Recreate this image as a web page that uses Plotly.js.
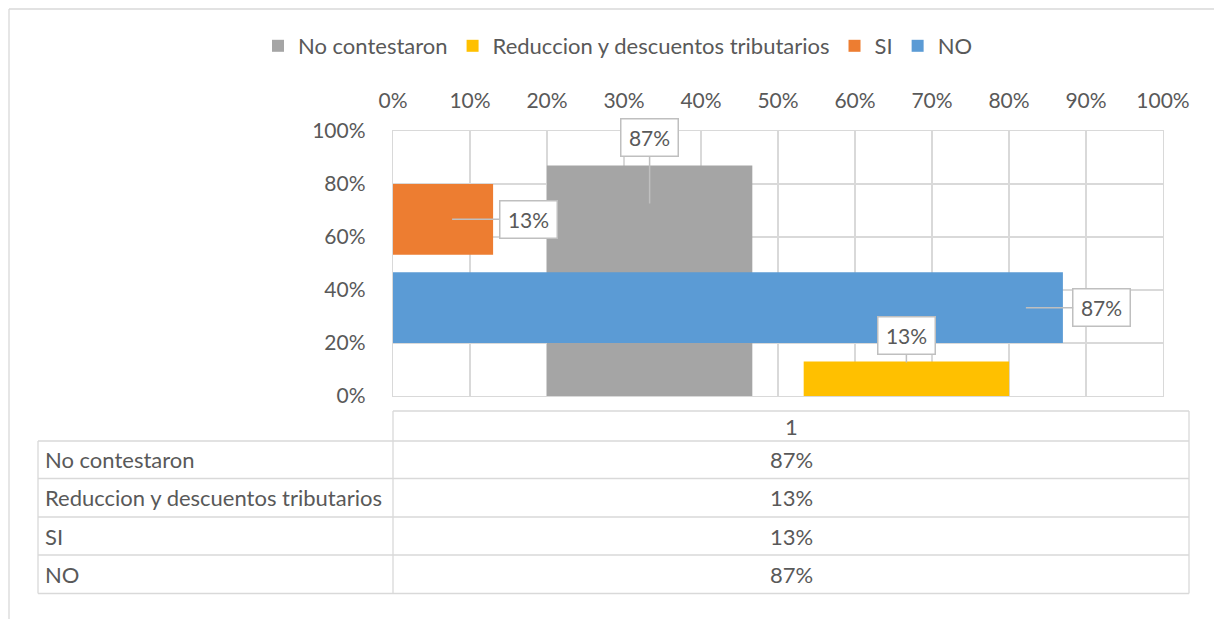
<!DOCTYPE html>
<html>
<head>
<meta charset="utf-8">
<script src="https://cdn.plot.ly/plotly-3.0.1.min.js"></script>
<style>html,body{margin:0;padding:0;background:#fff;}#chart{width:1214px;height:619px;}</style>
</head>
<body>
<div id="chart"></div>
<script>
// ---- data ----
const categories = ['1'];
const seriesNames = ['No contestaron', 'Reduccion y descuentos tributarios', 'SI', 'NO'];
const noContestaron = [0.87];
const reduccion = [0.13];
const si = [0.13];
const no = [0.87];
const percentTicks = [0, 0.1, 0.2, 0.3, 0.4, 0.5, 0.6, 0.7, 0.8, 0.9, 1.0];

// ---- styling ----
const FONT = 'Lato, "Open Sans", sans-serif';
const FS = 22;      // legend and table text
const FS_TICK = 21; // tick labels and callouts
const TXT = '#595959';
const GRID = '#d9d9d9';
const colors = ['#a5a5a5', '#ffc000', '#ed7d31', '#5b9bd5'];
const W = 1214, H = 619;
const M = {l: 393, r: 51, t: 131, b: 223};
const PW = W - M.l - M.r, PH = H - M.t - M.b;
const px = x => (x - M.l) / PW;
const py = y => (H - M.b - y) / PH;
const BARGAP = 0.333, BARGROUPGAP = 0.2;
const fmt = v => Math.round(v * 100) + '%';

const traces = [
  {type: 'bar', name: seriesNames[0], x: categories, y: noContestaron, xaxis: 'x', yaxis: 'y', marker: {color: colors[0]}, hoverinfo: 'none'},
  {type: 'bar', name: seriesNames[1], x: categories, y: reduccion, xaxis: 'x', yaxis: 'y', marker: {color: colors[1]}, hoverinfo: 'none'},
  {type: 'bar', orientation: 'h', name: seriesNames[2], x: si, y: categories, xaxis: 'x2', yaxis: 'y2', marker: {color: colors[2]}, hoverinfo: 'none'},
  {type: 'bar', orientation: 'h', name: seriesNames[3], x: no, y: categories, xaxis: 'x2', yaxis: 'y2', marker: {color: colors[3]}, hoverinfo: 'none'}
];

// group centre offsets (category units) for two bars per group
const quarter = (1 - BARGAP) / 4;

const calloutBase = {
  showarrow: true, arrowhead: 0, arrowwidth: 1.5, arrowcolor: '#bfbfbf',
  bgcolor: '#ffffff', bordercolor: '#bfbfbf', borderwidth: 1.5, borderpad: 3,
  width: 50, height: 30, font: {family: FONT, size: FS_TICK, color: TXT}
};
const annotations = [
  Object.assign({}, calloutBase, {xref: 'x', yref: 'y', x: -quarter, y: noContestaron[0], yshift: -38, ax: 0, ay: -66, text: fmt(noContestaron[0])}),
  Object.assign({}, calloutBase, {xref: 'x', yref: 'y', x: quarter, y: reduccion[0], yshift: -1, ax: 0, ay: -27, text: fmt(reduccion[0])}),
  Object.assign({}, calloutBase, {xref: 'x2', yref: 'y2', x: si[0], y: -quarter, xshift: -41, ax: 76, ay: 0, text: fmt(si[0])}),
  Object.assign({}, calloutBase, {xref: 'x2', yref: 'y2', x: no[0], y: quarter, xshift: -37, ax: 76, ay: 0, text: fmt(no[0])})
];

// ---- data table below the chart ----
const shapes = [];
const line = (x0, y0, x1, y1) => shapes.push({type: 'line', xref: 'paper', yref: 'paper', x0: px(x0), y0: py(y0), x1: px(x1), y1: py(y1), line: {color: GRID, width: 1.3}});
const tLeft = 38, tMid = 393, tRight = 1189, hdrTop = 411;
const rowLines = [441, 478.5, 517, 555, 593.5];
line(tMid, hdrTop, tRight, hdrTop);
rowLines.forEach(y => line(tLeft, y, tRight, y));
line(tLeft, rowLines[0], tLeft, rowLines[rowLines.length - 1]);
line(tMid, hdrTop, tMid, rowLines[rowLines.length - 1]);
line(tRight, hdrTop, tRight, rowLines[rowLines.length - 1]);
// outer chart border
line(9, 9, 1230, 9);
line(9, 9, 9, 640);

const tableFont = {family: FONT, size: FS, color: TXT};
annotations.push({xref: 'paper', yref: 'paper', x: px((tMid + tRight) / 2), y: py((hdrTop + rowLines[0]) / 2), text: categories[0], showarrow: false, xanchor: 'center', yanchor: 'middle', font: tableFont});
const seriesVals = [noContestaron, reduccion, si, no];
seriesNames.forEach((n, i) => {
  const yc = (rowLines[i] + rowLines[i + 1]) / 2;
  annotations.push({xref: 'paper', yref: 'paper', x: px(tLeft + 5), y: py(yc), text: n, showarrow: false, xanchor: 'left', yanchor: 'middle', font: tableFont});
  annotations.push({xref: 'paper', yref: 'paper', x: px((tMid + tRight) / 2), y: py(yc), text: fmt(seriesVals[i][0]), showarrow: false, xanchor: 'center', yanchor: 'middle', font: tableFont});
});

const layout = {
  width: W, height: H,
  margin: M,
  paper_bgcolor: '#ffffff', plot_bgcolor: '#ffffff',
  font: {family: FONT, size: FS, color: TXT},
  barmode: 'group', bargap: BARGAP, bargroupgap: BARGROUPGAP,
  showlegend: true,
  legend: {orientation: 'h', x: px(618), xanchor: 'center', y: py(46), yanchor: 'middle', font: {family: FONT, size: FS, color: TXT}, itemclick: false, traceorder: 'normal'},
  xaxis: {type: 'category', range: [-0.5, 0.5], showticklabels: false, showgrid: false, zeroline: false, showline: false, fixedrange: true},
  yaxis: {range: [0, 1], tickvals: percentTicks.filter((v, i) => i % 2 === 0), tickformat: '.0%', showgrid: true, gridcolor: GRID, gridwidth: 1.3, zeroline: false, showline: true, linecolor: GRID, linewidth: 1.3, mirror: true, ticks: '', ticklabelstandoff: 22, tickfont: {family: FONT, size: FS_TICK, color: TXT}, fixedrange: true},
  xaxis2: {overlaying: 'x', anchor: 'y2', side: 'top', range: [0, 1], tickvals: percentTicks, tickformat: '.0%', showgrid: true, gridcolor: GRID, gridwidth: 1.3, zeroline: false, showline: true, linecolor: GRID, linewidth: 1.3, mirror: true, ticks: '', ticklabelstandoff: 13, tickfont: {family: FONT, size: FS_TICK, color: TXT}, fixedrange: true},
  yaxis2: {overlaying: 'y', anchor: 'x2', side: 'right', type: 'category', range: [0.5, -0.5], showticklabels: false, showgrid: false, zeroline: false, showline: false, fixedrange: true},
  annotations: annotations,
  shapes: shapes
};

Plotly.newPlot('chart', traces, layout, {displayModeBar: false, staticPlot: true});
</script>
</body>
</html>
